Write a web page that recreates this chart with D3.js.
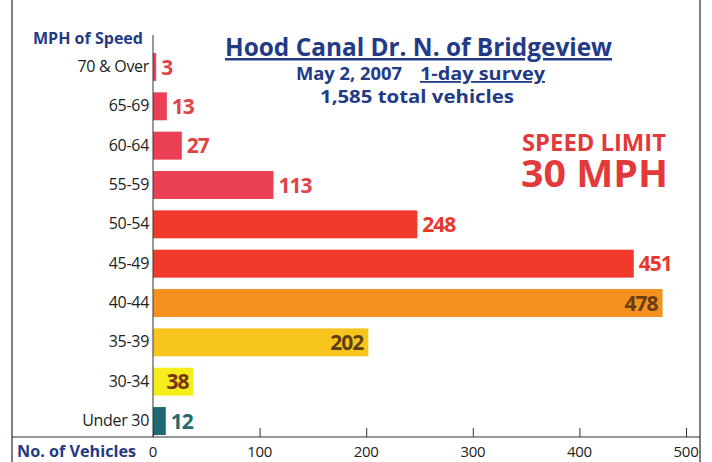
<!DOCTYPE html>
<html><head><meta charset="utf-8">
<script src="https://cdn.jsdelivr.net/npm/d3@7"></script>
<style>
html,body{margin:0;padding:0;background:#fff;}
svg{display:block;font-family:"Open Sans",sans-serif;}
</style></head>
<body>
<svg id="c" width="712" height="462"></svg>
<script>
const categories = ["70 & Over","65-69","60-64","55-59","50-54","45-49","40-44","35-39","30-34","Under 30"];
const vehicles = [3,13,27,113,248,451,478,202,38,12];
const barColors = ["#ea3f55","#ea3f55","#ea3f55","#ea3f55","#f23a2c","#f23a2c","#f5921f","#f7c51d","#f7ec1c","#1f6a72"];
const labelColors = ["#e04446","#e04446","#e04446","#e04446","#e8372c","#e8372c","#6a3d12","#5a4010","#7a3212","#236a72"];
const labelInside = [false,false,false,false,false,false,true,true,true,false];
const xTicks = [0,100,200,300,400,500];

const svg = d3.select("#c");
const x = d3.scaleLinear().domain([0,500]).range([153,686]);
const y = d3.scaleBand().domain(categories).range([47.3,440.7]).paddingInner(0.29).paddingOuter(0.145);

// frame lines
svg.append("line").attr("x1",12).attr("x2",12).attr("y1",0).attr("y2",462).attr("stroke","#4a5560").attr("stroke-width",1.5);
svg.append("line").attr("x1",700).attr("x2",700).attr("y1",0).attr("y2",462).attr("stroke","#4a5560").attr("stroke-width",1.5);

// bars
svg.selectAll("rect.bar").data(categories).join("rect")
  .attr("class","bar")
  .attr("x",x(0))
  .attr("y",d=>y(d))
  .attr("width",(d,i)=>x(vehicles[i])-x(0))
  .attr("height",y.bandwidth())
  .attr("fill",(d,i)=>barColors[i]);

// value labels
svg.selectAll("text.val").data(categories).join("text")
  .attr("class","val")
  .attr("x",(d,i)=>labelInside[i] ? x(vehicles[i])-5 : x(vehicles[i])+5)
  .attr("y",d=>y(d)+y.bandwidth()/2)
  .attr("dy","0.36em")
  .attr("text-anchor",(d,i)=>labelInside[i]?"end":"start")
  .attr("font-size",21).attr("font-weight",700).attr("letter-spacing","-1")
  .attr("fill",(d,i)=>labelColors[i])
  .text((d,i)=>vehicles[i]);

// y axis
const yAxis = d3.axisLeft(y).tickSize(0).tickPadding(4);
const yg = svg.append("g").attr("transform",`translate(${x(0)},0)`).call(yAxis);
yg.select(".domain").attr("d",`M0,35V437`).attr("stroke","#333").attr("stroke-width",1);
yg.selectAll("text").attr("font-size",16).attr("fill","#222").attr("font-family","Open Sans, sans-serif").attr("letter-spacing","-0.3");

// x axis
const xAxis = d3.axisTop(x).tickValues(xTicks).tickSize(9).tickFormat("");
const xg = svg.append("g").attr("transform","translate(0,437)").call(xAxis);
xg.select(".domain").attr("d","M12,0H700").attr("stroke","#333").attr("stroke-width",1);
xg.selectAll(".tick line").attr("stroke","#333");
svg.selectAll("text.xt").data(xTicks).join("text").attr("class","xt")
  .attr("x",d=>x(d)).attr("y",457).attr("text-anchor","middle")
  .attr("font-size",15).attr("fill","#222").attr("letter-spacing","-0.3")
  .text(d=>d);

// axis titles
svg.append("text").attr("x",33).attr("y",44)
  .attr("font-size",16).attr("font-weight",700).attr("fill","#233a86")
  .attr("textLength",110).attr("lengthAdjust","spacingAndGlyphs")
  .text("MPH of Speed");
svg.append("text").attr("x",17).attr("y",457)
  .attr("font-size",16).attr("font-weight",700).attr("fill","#233a86")
  .attr("textLength",119).attr("lengthAdjust","spacingAndGlyphs")
  .text("No. of Vehicles");

// titles
svg.append("text").attr("x",225).attr("y",56)
  .attr("font-size",25).attr("font-weight",700).attr("fill","#233a86")
  .attr("textLength",387).attr("lengthAdjust","spacingAndGlyphs")
  .attr("text-decoration","underline").text("Hood Canal Dr. N. of Bridgeview");
svg.append("text").attr("x",296).attr("y",80)
  .attr("font-size",18).attr("font-weight",700).attr("fill","#233a86")
  .attr("textLength",106).attr("lengthAdjust","spacingAndGlyphs")
  .text("May 2, 2007");
svg.append("text").attr("x",420).attr("y",80)
  .attr("font-size",18).attr("font-weight",700).attr("fill","#233a86")
  .attr("textLength",125).attr("lengthAdjust","spacingAndGlyphs")
  .attr("text-decoration","underline").text("1-day survey");
svg.append("text").attr("x",320).attr("y",103)
  .attr("font-size",17).attr("font-weight",700).attr("fill","#233a86")
  .attr("textLength",194).attr("lengthAdjust","spacingAndGlyphs")
  .text("1,585 total vehicles");

svg.append("text").attr("x",522).attr("y",151)
  .attr("font-size",23).attr("font-weight",700).attr("fill","#e23a3a")
  .attr("textLength",144).attr("lengthAdjust","spacingAndGlyphs")
  .text("SPEED LIMIT");
svg.append("text").attr("x",521).attr("y",187)
  .attr("font-size",38).attr("font-weight",700).attr("fill","#e23a3a")
  .attr("textLength",147).attr("lengthAdjust","spacingAndGlyphs")
  .text("30 MPH");
</script>
</body></html>
